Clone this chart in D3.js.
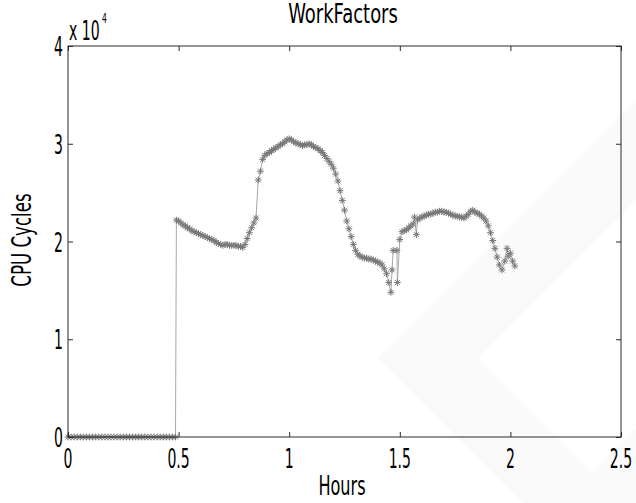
<!DOCTYPE html>
<html>
<head>
<meta charset="utf-8">
<script src="https://cdn.jsdelivr.net/npm/d3@7"></script>
<style>
  html, body { margin: 0; padding: 0; background: #fff; }
  svg { display: block; }
</style>
</head>
<body>
<div id="chart"></div>
<script>
// hours and CPU cycles (units of 10^4)
const hours = [
  0.000, 0.014, 0.028, 0.042, 0.056, 0.069, 0.083, 0.097, 0.111, 0.125, 0.139, 0.153,
  0.167, 0.181, 0.194, 0.208, 0.222, 0.236, 0.250, 0.264, 0.278, 0.292, 0.306, 0.319,
  0.333, 0.347, 0.361, 0.375, 0.389, 0.403, 0.417, 0.431, 0.444, 0.458, 0.472, 0.486,
  0.49, 0.50, 0.51, 0.52, 0.53, 0.54, 0.55, 0.56, 0.57, 0.58, 0.59, 0.60, 0.61, 0.62,
  0.63, 0.64, 0.65, 0.66, 0.67, 0.68, 0.69, 0.70, 0.71, 0.72, 0.73, 0.74, 0.75, 0.76,
  0.77, 0.78, 0.79, 0.80, 0.81, 0.82, 0.83, 0.84, 0.85, 0.86, 0.87, 0.88, 0.89, 0.90,
  0.91, 0.92, 0.93, 0.94, 0.95, 0.96, 0.97, 0.98, 0.99, 1.00, 1.01, 1.02, 1.03, 1.04,
  1.05, 1.06, 1.07, 1.08, 1.09, 1.10, 1.11, 1.12, 1.13, 1.14, 1.15, 1.16, 1.17, 1.18,
  1.19, 1.20, 1.21, 1.22, 1.23, 1.24, 1.25, 1.26, 1.27, 1.28, 1.29, 1.30, 1.31, 1.32,
  1.33, 1.34, 1.35, 1.36, 1.37, 1.38, 1.39, 1.40, 1.41, 1.42, 1.43, 1.44, 1.45, 1.46,
  1.465, 1.470, 1.487, 1.489, 1.50, 1.51, 1.52, 1.53, 1.54, 1.55, 1.56, 1.566, 1.575,
  1.58, 1.59, 1.60, 1.61, 1.62, 1.63, 1.64, 1.65, 1.66, 1.67, 1.68, 1.69, 1.70, 1.71,
  1.72, 1.73, 1.74, 1.75, 1.76, 1.77, 1.78, 1.79, 1.80, 1.81, 1.82, 1.83, 1.84, 1.85,
  1.86, 1.87, 1.88, 1.89, 1.90, 1.91, 1.92, 1.93, 1.94, 1.95, 1.962, 1.975, 1.985,
  1.99, 2.00, 2.01, 2.02
];
const cycles = [
  0, 0, 0, 0, 0, 0, 0, 0, 0, 0, 0, 0,
  0, 0, 0, 0, 0, 0, 0, 0, 0, 0, 0, 0,
  0, 0, 0, 0, 0, 0, 0, 0, 0, 0, 0, 0,
  2.22, 2.21, 2.19, 2.17, 2.16, 2.14, 2.13, 2.11, 2.10, 2.09, 2.08, 2.07, 2.06, 2.05,
  2.04, 2.03, 2.02, 2.01, 1.99, 1.98, 1.97, 1.96, 1.97, 1.97, 1.96, 1.96, 1.96, 1.96,
  1.95, 1.95, 1.94, 1.97, 2.03, 2.09, 2.14, 2.19, 2.24, 2.63, 2.72, 2.84, 2.88, 2.90,
  2.91, 2.93, 2.94, 2.96, 2.97, 2.99, 3.00, 3.02, 3.04, 3.05, 3.04, 3.02, 3.01, 3.00,
  2.99, 2.98, 2.99, 2.99, 3.00, 2.99, 2.97, 2.96, 2.95, 2.93, 2.91, 2.88, 2.85, 2.82,
  2.79, 2.75, 2.69, 2.62, 2.52, 2.42, 2.32, 2.21, 2.13, 2.05, 1.97, 1.91, 1.87, 1.85,
  1.84, 1.83, 1.83, 1.82, 1.82, 1.81, 1.80, 1.79, 1.78, 1.76, 1.72, 1.67, 1.58, 1.48,
  1.71, 1.91, 1.91, 1.58, 2.02, 2.10, 2.11, 2.12, 2.14, 2.16, 2.18, 2.25, 2.07,
  2.22, 2.24, 2.25, 2.26, 2.27, 2.28, 2.28, 2.29, 2.30, 2.30, 2.31, 2.31, 2.30, 2.30,
  2.29, 2.28, 2.27, 2.26, 2.26, 2.25, 2.25, 2.24, 2.26, 2.28, 2.31, 2.32, 2.30, 2.29,
  2.28, 2.26, 2.24, 2.21, 2.16, 2.09, 2.01, 1.93, 1.84, 1.76, 1.71, 1.80, 1.93,
  1.85, 1.88, 1.80, 1.75
];
const xTicks = [0, 0.5, 1, 1.5, 2, 2.5];
const xTickLabels = ["0", "0.5", "1", "1.5", "2", "2.5"];
const yTicks = [0, 1, 2, 3, 4];
const yTickLabels = ["0", "1", "2", "3", "4"];

const width = 636, height = 503;
const margin = { top: 46, right: 15, bottom: 66, left: 68 };
const innerWidth = width - margin.left - margin.right;
const innerHeight = height - margin.top - margin.bottom;

const svg = d3.select("#chart").append("svg")
    .attr("width", width)
    .attr("height", height);

// faint watermark in the background
const wm = svg.append("g").attr("fill", "#fafafa");
wm.append("polygon").attr("points", "378,358 636,100 636,200 478,358 623,503 523,503");
wm.append("polygon").attr("points", "562,503 636,429 636,503");

const x = d3.scaleLinear().domain([0, 2.5]).range([0, innerWidth]);
const y = d3.scaleLinear().domain([0, 4]).range([innerHeight, 0]);

const g = svg.append("g")
    .attr("transform", `translate(${margin.left},${margin.top})`);

// narrow text: DejaVu squeezed to a fraction of its natural width
const font = "DejaVu Sans, sans-serif";
function label(parent, tx, ty, str, size, anchor, sx, rot) {
    const t = parent.append("text")
        .attr("transform", `translate(${tx},${ty})` + (rot ? ` rotate(${rot})` : ""))
        .attr("text-anchor", anchor)
        .attr("font-family", font)
        .attr("font-size", size)
        .attr("fill", "#000")
        .text(str);
    const w = t.node().getComputedTextLength();
    t.attr("textLength", w * sx).attr("lengthAdjust", "spacingAndGlyphs");
    return t;
}

// data line + asterisk markers
const pts = hours.map((h, i) => [h, cycles[i]]);
const line = d3.line().x(d => x(d[0])).y(d => y(d[1]));

g.append("path")
    .datum(pts)
    .attr("fill", "none")
    .attr("stroke", "#a8a8a8")
    .attr("stroke-width", 1)
    .attr("d", line);

const r = 3.4, rd = 2.5;
const star = `M${-r},0H${r}M0,${-r}V${r}M${-rd},${-rd}L${rd},${rd}M${-rd},${rd}L${rd},${-rd}`;
g.append("g")
    .selectAll("path")
    .data(pts)
    .enter()
    .append("path")
    .attr("transform", d => `translate(${x(d[0])},${y(d[1])})`)
    .attr("d", star)
    .attr("fill", "none")
    .attr("stroke", "#777")
    .attr("stroke-width", 1);

// box
g.append("rect")
    .attr("width", innerWidth)
    .attr("height", innerHeight)
    .attr("fill", "none")
    .attr("stroke", "#2a2a2a")
    .attr("stroke-width", 1);

// inward ticks on all four sides
const tl = 5;
g.append("g").call(d3.axisBottom(x).tickValues(xTicks).tickSize(-tl).tickFormat(""))
    .attr("transform", `translate(0,${innerHeight})`);
g.append("g").call(d3.axisTop(x).tickValues(xTicks).tickSize(-tl).tickFormat(""));
g.append("g").call(d3.axisLeft(y).tickValues(yTicks).tickSize(-tl).tickFormat(""));
g.append("g").call(d3.axisRight(y).tickValues(yTicks).tickSize(-tl).tickFormat(""))
    .attr("transform", `translate(${innerWidth},0)`);
g.selectAll(".domain").remove();
g.selectAll(".tick line").attr("stroke", "#2a2a2a");

// tick labels
xTicks.forEach((v, i) => {
    label(g, x(v), innerHeight + 31, xTickLabels[i], 27, "middle", 0.52);
});
yTicks.forEach((v, i) => {
    label(g, -5, y(v) + 10, yTickLabels[i], 27, "end", 0.52);
});

// exponent note
label(svg, margin.left + 1, 40, "x 10", 27, "start", 0.52);
label(svg, margin.left + 34, 23, "4", 14, "start", 0.55);

// title and axis labels
label(svg, 343, 23, "WorkFactors", 26, "middle", 0.69);
label(svg, 342, 495, "Hours", 26, "middle", 0.62);
label(svg, 31, 240, "CPU Cycles", 26, "middle", 0.64, -90);
</script>
</body>
</html>
